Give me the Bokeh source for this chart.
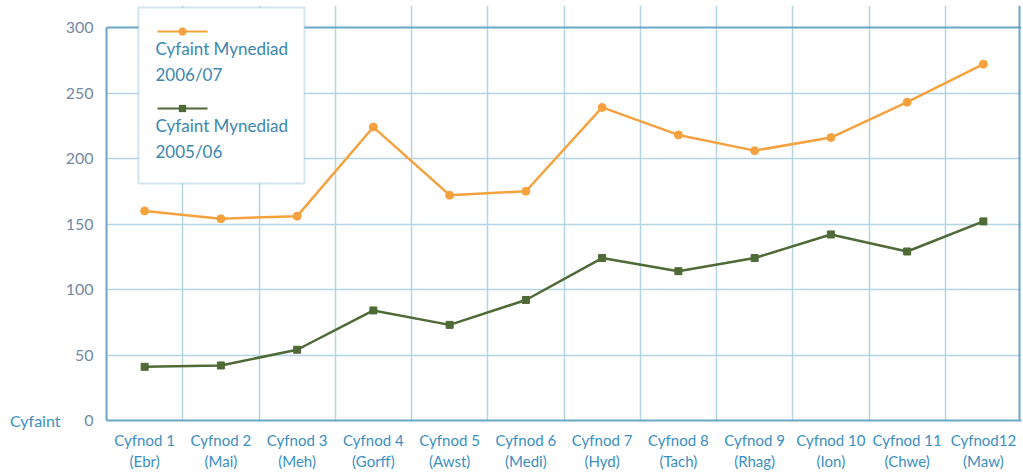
import math
from bokeh.plotting import figure
from bokeh.models import (Range1d, FactorRange, FixedTicker, Label, BoxAnnotation,
                          Arrow, PolyAnnotation, LinearAxis, Grid)
from bokeh.embed import file_html
from bokeh.resources import INLINE

# ---- data ----
periods = ["Cyfnod 1\n(Ebr)", "Cyfnod 2\n(Mai)", "Cyfnod 3\n(Meh)", "Cyfnod 4\n(Gorff)",
           "Cyfnod 5\n(Awst)", "Cyfnod 6\n(Medi)", "Cyfnod 7\n(Hyd)", "Cyfnod 8\n(Tach)",
           "Cyfnod 9\n(Rhag)", "Cyfnod 10\n(Ion)", "Cyfnod 11\n(Chwe)", "Cyfnod12\n(Maw)"]
access_2006_07 = [160, 154, 156, 224, 172, 175, 239, 218, 206, 216, 243, 272]
access_2005_06 = [41, 42, 54, 84, 73, 92, 124, 114, 124, 142, 129, 152]
series_names = [["Cyfaint Mynediad", "2006/07"], ["Cyfaint Mynediad", "2005/06"]]
y_ticks = [0, 50, 100, 150, 200, 250, 300]
y_title = "Cyfaint"

ORANGE = "#f5a23e"
GREEN = "#4f6a36"
TEAL = "#3a8fc2"
GRID = "#b2d4e3"
FRAME = "#6aa6c6"
FONT = "Lato"

Y_MAX = y_ticks[-1]
TOP_PAD = 22  # px of frame above the 300 line (room for the legend box)
FRAME_H = 474 - 5 - 54
y_end = Y_MAX * FRAME_H / (FRAME_H - TOP_PAD)

p = figure(width=1023, height=474, x_range=FactorRange(*periods), y_range=Range1d(0, y_end),
           output_backend="svg", toolbar_location=None,
           min_border_left=106, min_border_right=2, min_border_top=5, min_border_bottom=54)
p.background_fill_color = "white"
p.border_fill_color = "white"
p.outline_line_color = None

p.yaxis.ticker = FixedTicker(ticks=y_ticks)
p.yaxis.bounds = (0, Y_MAX)
p.yaxis.major_tick_line_color = None
p.yaxis.major_tick_out = 0
p.yaxis.major_tick_in = 0
p.yaxis.minor_tick_line_color = None
p.yaxis.axis_line_color = FRAME
p.yaxis.axis_line_width = 2
p.yaxis.major_label_text_font = FONT
p.yaxis.major_label_text_font_size = "16px"
p.yaxis.major_label_text_color = "#7489a6"
p.yaxis.major_label_standoff = 13

# second left axis carrying the "Cyfaint" title at the level of 0
title_axis = LinearAxis(ticker=FixedTicker(ticks=[0]), major_label_overrides={0: y_title},
                        axis_line_color=None, major_tick_line_color=None,
                        major_tick_out=0, major_tick_in=0,
                        minor_tick_line_color=None, major_label_standoff=2,
                        major_label_text_font=FONT, major_label_text_font_size="16px",
                        major_label_text_color=TEAL)
p.add_layout(title_axis, "left")

p.xaxis.major_tick_line_color = None
p.xaxis.major_tick_out = 0
p.xaxis.axis_line_color = FRAME
p.xaxis.axis_line_width = 2
p.xaxis.major_label_text_font = FONT
p.xaxis.major_label_text_font_size = "15px"
p.xaxis.major_label_text_color = TEAL
p.xaxis.major_label_standoff = 10

p.ygrid.ticker = FixedTicker(ticks=y_ticks[1:-1])
p.ygrid.grid_line_color = GRID
p.ygrid.grid_line_width = 1.5
p.xgrid.ticker = FixedTicker(ticks=list(range(1, len(periods))))
p.xgrid.bounds = (0, Y_MAX)
p.xgrid.grid_line_color = GRID
p.xgrid.grid_line_width = 1.5

# frame top (at 300) and right edge
p.add_layout(Grid(dimension=1, ticker=FixedTicker(ticks=[Y_MAX]),
                  grid_line_color=FRAME, grid_line_width=2))
p.add_layout(Grid(dimension=0, ticker=FixedTicker(ticks=[len(periods) - 0.02]), bounds=(0, Y_MAX),
                  grid_line_color=FRAME, grid_line_width=2))

p.line(periods, access_2006_07, line_color=ORANGE, line_width=2.5)
p.scatter(periods, access_2006_07, marker="circle", size=8, fill_color=ORANGE, line_color=ORANGE)
p.line(periods, access_2005_06, line_color=GREEN, line_width=2.5)
p.scatter(periods, access_2005_06, marker="square", size=7, fill_color=GREEN, line_color=GREEN)

# ---- manual legend (screen units, relative to frame bottom-left) ----
p.add_layout(BoxAnnotation(left=32, right=198, top=413, bottom=237,
                           left_units="screen", right_units="screen",
                           top_units="screen", bottom_units="screen",
                           fill_color="white", fill_alpha=1, line_color=FRAME, line_width=2))
colors = [ORANGE, GREEN]
markers = ["circle", "square"]
for i, (c, mk, name) in enumerate(zip(colors, markers, series_names)):
    ly = 389 - i * 77
    p.add_layout(Arrow(start=None, end=None, x_start=51, y_start=ly, x_end=101, y_end=ly,
                       start_units="screen", end_units="screen", line_color=c, line_width=2))
    if mk == "circle":
        xs = [76 + 4 * math.cos(a * math.pi / 8) for a in range(16)]
        ys = [ly + 4 * math.sin(a * math.pi / 8) for a in range(16)]
    else:
        xs = [72.5, 79.5, 79.5, 72.5]
        ys = [ly - 3.5, ly - 3.5, ly + 3.5, ly + 3.5]
    p.add_layout(PolyAnnotation(xs=xs, ys=ys, xs_units="screen", ys_units="screen",
                                fill_color=c, fill_alpha=1, line_color=c))
    for j, t in enumerate(name):
        p.add_layout(Label(x=49, y=ly - 17 - j * 26, x_units="screen", y_units="screen",
                           text=t, text_font=FONT, text_font_size="17px",
                           text_color="#3b87b0", text_baseline="middle"))

open("out.html", "w").write(file_html(p, INLINE))
